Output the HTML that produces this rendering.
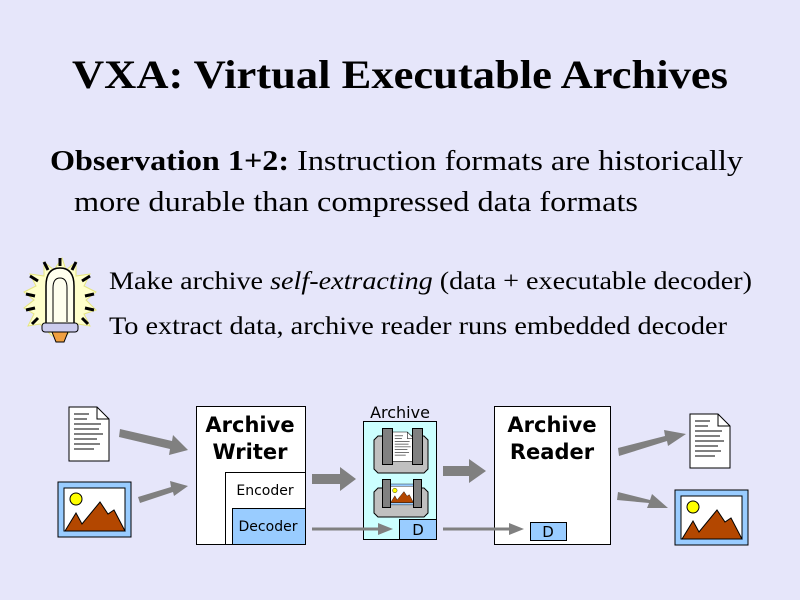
<!DOCTYPE html>
<html><head><meta charset="utf-8"><style>
html,body{margin:0;padding:0;background:#e6e6fa;}
svg{display:block}
</style></head><body>
<svg width="800" height="600" viewBox="0 0 800 600" xmlns="http://www.w3.org/2000/svg">
<defs>
<g id="doc">
<path d="M0,0 H28 L40,12 V54 H0 Z" fill="#fff" stroke="#000" stroke-width="1"/>
<path d="M28,0 V12 H40" fill="none" stroke="#000" stroke-width="1"/>
<g stroke="#000" stroke-width="1">
<line x1="5" y1="7" x2="20" y2="7"/><line x1="5" y1="12" x2="18" y2="12"/>
<line x1="5" y1="17" x2="32" y2="17"/><line x1="5" y1="22" x2="30" y2="22"/>
<line x1="5" y1="27" x2="34" y2="27"/><line x1="5" y1="32" x2="28" y2="32"/>
<line x1="5" y1="37" x2="31" y2="37"/><line x1="5" y1="42" x2="25" y2="42"/>
</g>
</g>
<g id="pic">
<rect x="0" y="0" width="73" height="55" fill="#99ccff" stroke="#000"/>
<rect x="6" y="6" width="61" height="43" fill="#fff" stroke="#000"/>
<circle cx="18" cy="17" r="6" fill="#ffff00" stroke="#000"/>
<path d="M7,49 L18,31 L24,42 L42,20 L50,32 L56,28 L67,49 Z" fill="#b34700" stroke="#000"/>
</g>
</defs>

<text x="72" y="88" font-family="Liberation Serif, serif" font-weight="bold" font-size="40" textLength="656" lengthAdjust="spacingAndGlyphs">VXA: Virtual Executable Archives</text>

<text x="50" y="170" font-family="Liberation Serif, serif" font-size="28" textLength="693" lengthAdjust="spacingAndGlyphs"><tspan font-weight="bold">Observation 1+2:</tspan> Instruction formats are historically</text>
<text x="74" y="211" font-family="Liberation Serif, serif" font-size="28" textLength="564" lengthAdjust="spacingAndGlyphs">more durable than compressed data formats</text>

<text x="109" y="289" font-family="Liberation Serif, serif" font-size="25" textLength="643" lengthAdjust="spacingAndGlyphs">Make archive <tspan font-style="italic">self-extracting</tspan> (data + executable decoder)</text>
<text x="109" y="334" font-family="Liberation Serif, serif" font-size="25" textLength="618" lengthAdjust="spacingAndGlyphs">To extract data, archive reader runs embedded decoder</text>

<!-- bulb -->
<g>
<path d="M62,258 L66,270 L76,262 L76,276 L90,274 L84,286 L96,292 L86,300 L96,310 L84,314 L90,326 L78,324 L66,336 L52,336 L40,324 L28,326 L34,314 L24,308 L34,300 L24,292 L36,286 L30,274 L44,276 L44,262 L54,270 Z" fill="#ffffcc" stroke="#e6e680" stroke-width="1"/>
<g stroke="#000" stroke-width="3">
<line x1="60" y1="258" x2="60" y2="266"/><line x1="44" y1="262" x2="48" y2="270"/><line x1="76" y1="262" x2="72" y2="270"/>
<line x1="30" y1="276" x2="38" y2="281"/><line x1="90" y1="276" x2="82" y2="281"/>
<line x1="26" y1="294" x2="35" y2="296"/><line x1="94" y1="294" x2="85" y2="296"/>
<line x1="26" y1="310" x2="35" y2="308"/><line x1="94" y1="310" x2="85" y2="308"/>
<line x1="32" y1="324" x2="38" y2="318"/><line x1="88" y1="324" x2="82" y2="318"/>
</g>
<path d="M46,324 V286 Q46,268 60,268 Q74,268 74,286 V324 Z" fill="#ffffee" stroke="#000" stroke-width="1.5"/>
<path d="M53,322 V288 Q53,278 60,278 Q67,278 67,288 V322" fill="none" stroke="#000" stroke-width="1"/>
<rect x="42" y="323" width="36" height="9" rx="3" fill="#ccccee" stroke="#000"/>
<path d="M52,332 H68 L64,342 H56 Z" fill="#f0a040" stroke="#000"/>
</g>

<!-- left inputs -->
<use href="#doc" x="69" y="407"/>
<use href="#pic" x="58" y="482"/>

<!-- writer -->
<rect x="196.5" y="406.5" width="109" height="138" fill="#fff" stroke="#000"/>
<text x="250" y="432" text-anchor="middle" font-family="DejaVu Sans, sans-serif" font-weight="bold" font-size="21">Archive</text>
<text x="250" y="459" text-anchor="middle" font-family="DejaVu Sans, sans-serif" font-weight="bold" font-size="21">Writer</text>
<rect x="225.5" y="472.5" width="80" height="72" fill="#fff" stroke="#000"/>
<text x="265" y="495" text-anchor="middle" font-family="DejaVu Sans, sans-serif" font-size="14">Encoder</text>
<rect x="232.5" y="508.5" width="73" height="36" fill="#99ccff" stroke="#000"/>
<text x="268" y="531" text-anchor="middle" font-family="DejaVu Sans, sans-serif" font-size="14">Decoder</text>

<!-- archive -->
<text x="400" y="418" text-anchor="middle" font-family="DejaVu Sans, sans-serif" font-size="16">Archive</text>
<rect x="363.5" y="421.5" width="73" height="118" fill="#ccffff" stroke="#000"/>
<path d="M374,440 L378,436 H424 L428,440 V469 L424,473 H378 L374,469 Z" fill="#c0c0c0" stroke="#000"/>
<g transform="translate(392 432) scale(0.55)"><use href="#doc"/></g>
<rect x="382.5" y="428.5" width="10" height="36" fill="#808080" stroke="#000"/>
<rect x="412.5" y="428.5" width="10" height="36" fill="#808080" stroke="#000"/>
<path d="M374,492 L378,488 H424 L428,492 V513 L424,517 H378 L374,513 Z" fill="#c0c0c0" stroke="#000"/>
<g transform="translate(388 484) scale(0.38)"><use href="#pic"/></g>
<rect x="382.5" y="479.5" width="8" height="28" fill="#808080" stroke="#000"/>
<rect x="413.5" y="479.5" width="8" height="28" fill="#808080" stroke="#000"/>
<rect x="399.5" y="519.5" width="37" height="20" fill="#99ccff" stroke="#000"/>
<text x="418" y="535" text-anchor="middle" font-family="DejaVu Sans, sans-serif" font-size="15">D</text>

<!-- reader -->
<rect x="494.5" y="406.5" width="116" height="138" fill="#fff" stroke="#000"/>
<text x="552" y="432" text-anchor="middle" font-family="DejaVu Sans, sans-serif" font-weight="bold" font-size="21">Archive</text>
<text x="552" y="459" text-anchor="middle" font-family="DejaVu Sans, sans-serif" font-weight="bold" font-size="21">Reader</text>
<rect x="530.5" y="522.5" width="36" height="18" fill="#99ccff" stroke="#000"/>
<text x="548" y="537" text-anchor="middle" font-family="DejaVu Sans, sans-serif" font-size="15">D</text>

<!-- outputs -->
<use href="#doc" x="690" y="414"/>
<use href="#pic" x="675" y="490"/>

<!-- arrows -->
<g fill="#808080">
<path d="M120,429 L172,441 L173,435 L188,450 L169,455 L170,449 L119,437 Z"/>
<path d="M138,497 L171,487 L170,481 L188,486 L174,496 L173,492 L140,503 Z"/>
<path d="M312,474 H340 V467 L356,479 L340,491 V484 H312 Z"/>
<path d="M443,466 H469 V459 L486,471 L469,483 V476 H443 Z"/>
<path d="M618,448 L665,436 L664,430 L686,434 L668,446 L667,441 L619,456 Z"/>
<path d="M618,492 L650,500 L652,494 L668,508 L647,508 L649,503 L617,500 Z"/>
</g>
<g stroke="#808080" stroke-width="3">
<line x1="312" y1="529" x2="380" y2="529"/>
<line x1="443" y1="529" x2="512" y2="529"/>
</g>
<path d="M378,523 L393,529 L378,535 Z" fill="#808080"/>
<path d="M509,523 L524,529 L509,535 Z" fill="#808080"/>
</svg>
</body></html>
